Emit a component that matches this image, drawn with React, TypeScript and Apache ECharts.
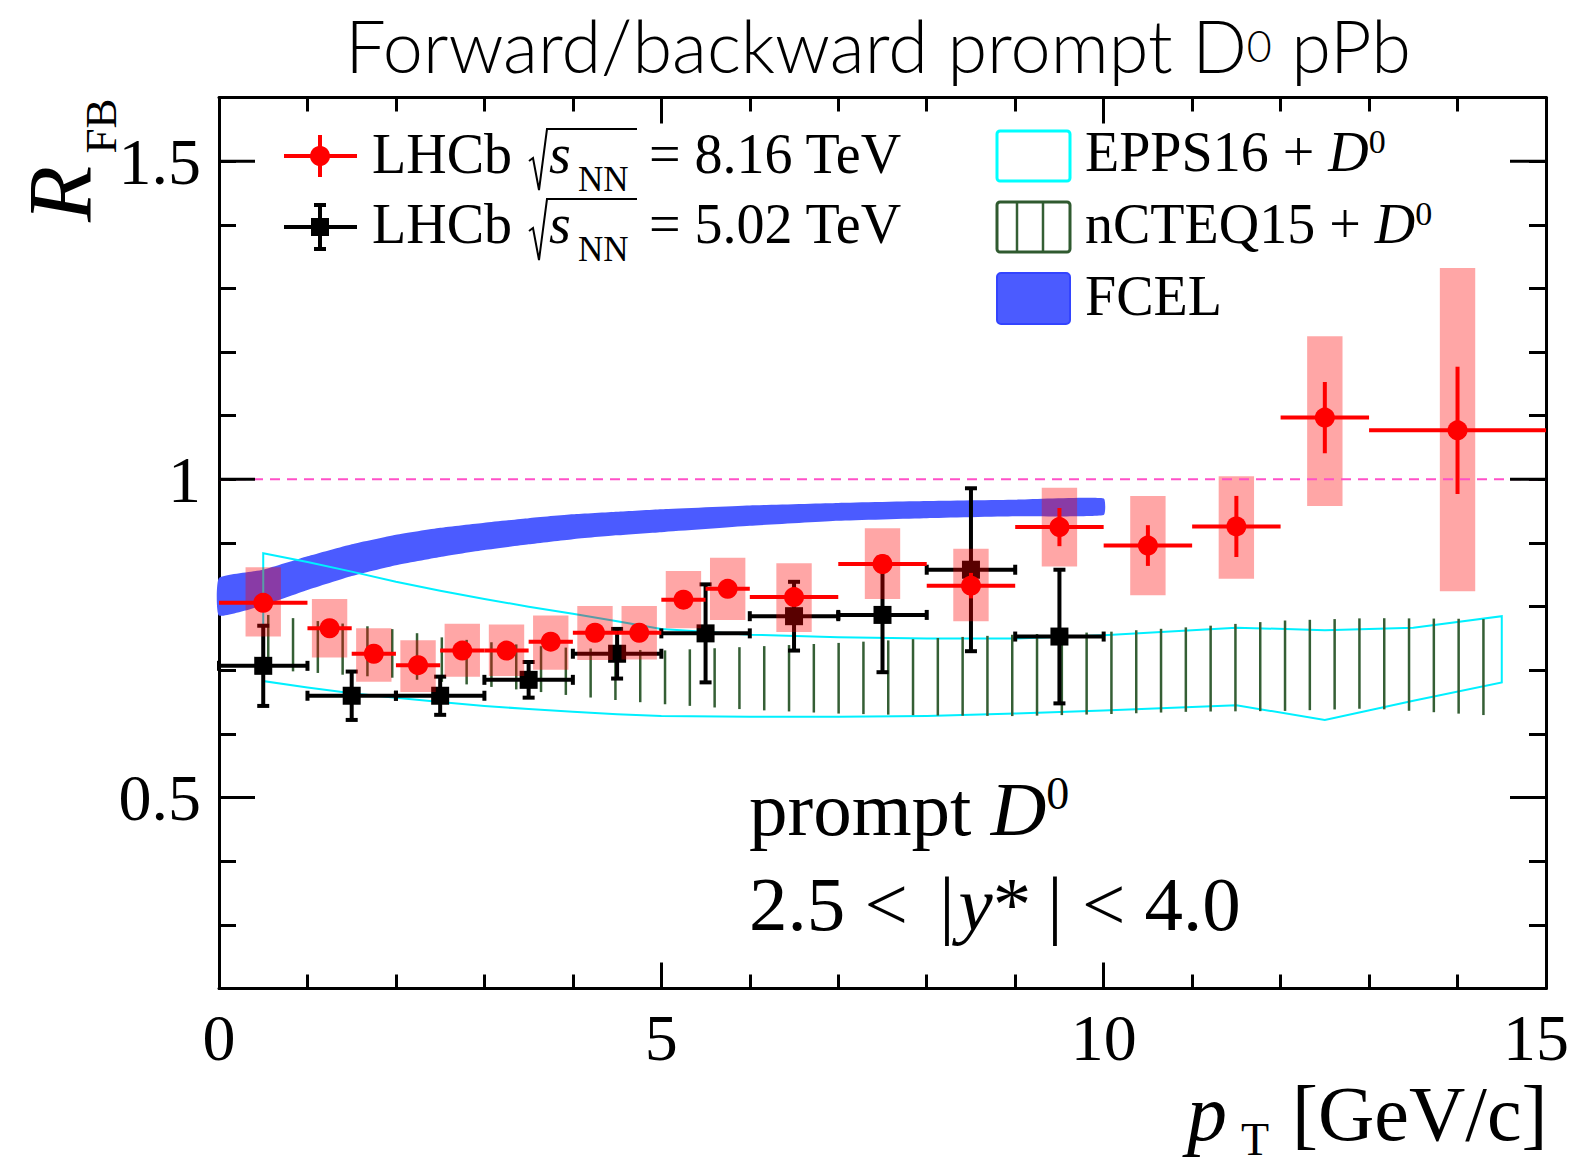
import React, { useEffect, useRef } from "react";
import * as echarts from "echarts";

// ---------------- data ----------------
// LHCb sqrt(sNN) = 8.16 TeV (red)
const redX = [0.5, 1.25, 1.75, 2.25, 2.75, 3.25, 3.75, 4.25, 4.75, 5.25, 5.75, 6.5, 7.5, 8.5, 9.5, 10.5, 11.5, 12.5, 14.0];
const redXLo = [0, 1.0, 1.5, 2.0, 2.5, 3.0, 3.5, 4.0, 4.5, 5.0, 5.5, 6, 7, 8, 9, 10, 11, 12, 13];
const redXHi = [1.0, 1.5, 2.0, 2.5, 3.0, 3.5, 4.0, 4.5, 5.0, 5.5, 6.0, 7, 8, 9, 10, 11, 12, 13, 15];
const redY = [0.806, 0.766, 0.726, 0.708, 0.731, 0.731, 0.745, 0.759, 0.759, 0.811, 0.828, 0.815, 0.867, 0.833, 0.925, 0.896, 0.926, 1.097, 1.077];
const redStat = [0.01, 0.008, 0.008, 0.008, 0.008, 0.008, 0.008, 0.008, 0.008, 0.01, 0.01, 0.012, 0.015, 0.02, 0.03, 0.032, 0.048, 0.056, 0.1];
const redSystLo = [0.753, 0.72, 0.682, 0.666, 0.69, 0.691, 0.701, 0.716, 0.717, 0.766, 0.779, 0.76, 0.812, 0.777, 0.863, 0.818, 0.844, 0.958, 0.824];
const redSystHi = [0.862, 0.812, 0.766, 0.747, 0.773, 0.772, 0.786, 0.801, 0.801, 0.856, 0.877, 0.868, 0.923, 0.891, 0.987, 0.974, 1.005, 1.225, 1.332];

// LHCb sqrt(sNN) = 5.02 TeV (black)
const blackX = [0.5, 1.5, 2.5, 3.5, 4.5, 5.5, 6.5, 7.5, 8.5, 9.5];
const blackXLo = [0, 1, 2, 3, 4, 5, 6, 7, 8, 9];
const blackXHi = [1, 2, 3, 4, 5, 6, 7, 8, 9, 10];
const blackY = [0.707, 0.66, 0.66, 0.685, 0.726, 0.758, 0.785, 0.787, 0.858, 0.753];
const blackErr = [0.063, 0.038, 0.03, 0.028, 0.039, 0.077, 0.054, 0.09, 0.128, 0.105];

// FCEL band
const fcelX = [0, 0.5, 1, 1.5, 2, 2.5, 3, 3.5, 4, 4.5, 5, 6, 7, 8, 9, 10];
const fcelHi = [0.845, 0.858, 0.879, 0.898, 0.913, 0.924, 0.932, 0.939, 0.945, 0.949, 0.953, 0.959, 0.963, 0.966, 0.968, 0.97];
const fcelLo = [0.786, 0.802, 0.826, 0.848, 0.865, 0.878, 0.889, 0.898, 0.906, 0.912, 0.917, 0.927, 0.935, 0.939, 0.942, 0.944];

// EPPS16 + D0 band (outline)
const eppsX = [0.5, 1, 1.5, 2, 2.5, 3, 3.5, 4, 4.5, 5, 6, 7, 8, 9, 10, 11.5, 12.5, 13.5, 14.5];
const eppsHi = [0.884, 0.87, 0.855, 0.839, 0.825, 0.812, 0.8, 0.789, 0.777, 0.765, 0.756, 0.752, 0.75, 0.75, 0.755, 0.767, 0.763, 0.767, 0.785];
const eppsLo = [0.683, 0.673, 0.664, 0.657, 0.65, 0.644, 0.639, 0.635, 0.631, 0.628, 0.627, 0.627, 0.628, 0.632, 0.637, 0.645, 0.622, 0.652, 0.681];

// nCTEQ15 + D0 band (hatched)
const ncteqX = [0.5, 1, 1.5, 2, 2.5, 3, 3.5, 4, 4.5, 5, 6, 7, 8, 9, 10, 11, 12, 13, 14, 14.5];
const ncteqHi = [0.788, 0.779, 0.772, 0.764, 0.752, 0.745, 0.739, 0.735, 0.733, 0.731, 0.737, 0.743, 0.75, 0.756, 0.76, 0.768, 0.778, 0.782, 0.781, 0.78];
const ncteqLo = [0.701, 0.697, 0.692, 0.688, 0.682, 0.675, 0.668, 0.66, 0.653, 0.647, 0.638, 0.632, 0.629, 0.628, 0.631, 0.635, 0.636, 0.64, 0.632, 0.628];

// reference line R = 1
const unityLine = [[0, 1], [15, 1]];

// axes
const xMin = 0, xMax = 15, xInterval = 5;
const yMin = 0.2, yMax = 1.6, yMinorInterval = 0.1;
const yMajorTicks = [0.5, 1, 1.5];

// ---------------- styles ----------------
const SERIF = "'Liberation Serif', 'Times New Roman', Times, serif";
const SANS = "Lato, 'Open Sans', sans-serif";
const C_SERIF = 0.3375; // central-baseline offset (em) for Liberation Serif
const BOX_HALF = 0.2;
const HATCH_STEP = 24.8;
const HATCH_GREEN = "#355f35";
const BLUE = "#4b5bff";
const PINK = "rgba(255,0,0,0.35)";

function txt(x: number, baseline: number, text: string, size: number, extra: any = {}) {
  return {
    type: "text",
    x,
    y: baseline - C_SERIF * size,
    z: 100,
    style: {
      text,
      fontSize: size,
      fontFamily: SERIF,
      fill: "#000",
      align: "left",
      verticalAlign: "middle",
      ...extra,
    },
  };
}

function interp(pts: number[][], px: number) {
  for (let i = 0; i < pts.length - 1; i++) {
    const a = pts[i], b = pts[i + 1];
    if (px >= a[0] && px <= b[0]) {
      const t = (px - a[0]) / (b[0] - a[0] || 1);
      return a[1] + t * (b[1] - a[1]);
    }
  }
  return pts[pts.length - 1][1];
}

function legendRow(y: number, baseline: number, energy: string, black: boolean) {
  const els: any[] = [];
  const color = black ? "#000" : "#ff0000";
  els.push({ type: "line", shape: { x1: 284, y1: y, x2: 357, y2: y }, style: { stroke: color, lineWidth: 4 }, z: 100 });
  if (black) {
    els.push({ type: "line", shape: { x1: 320, y1: y - 22, x2: 320, y2: y + 22 }, style: { stroke: color, lineWidth: 4 }, z: 100 });
    els.push({ type: "line", shape: { x1: 314, y1: y - 22, x2: 326, y2: y - 22 }, style: { stroke: color, lineWidth: 4 }, z: 100 });
    els.push({ type: "line", shape: { x1: 314, y1: y + 22, x2: 326, y2: y + 22 }, style: { stroke: color, lineWidth: 4 }, z: 100 });
    els.push({ type: "rect", shape: { x: 311, y: y - 9, width: 18, height: 18 }, style: { fill: color }, z: 100 });
  } else {
    els.push({ type: "line", shape: { x1: 320, y1: y - 21, x2: 320, y2: y + 21 }, style: { stroke: color, lineWidth: 4 }, z: 100 });
    els.push({ type: "circle", shape: { cx: 320, cy: y, r: 10 }, style: { fill: color }, z: 100 });
  }
  els.push(txt(372, baseline, "LHCb", 56));
  els.push({
    type: "polyline",
    shape: { points: [[529, baseline - 12], [533, baseline - 15], [539, baseline + 17], [547, baseline - 44], [637, baseline - 44]] },
    style: { stroke: "#000", lineWidth: 2, fill: null },
    z: 100,
  });
  els.push(txt(549, baseline, "s", 56, { fontStyle: "italic" }));
  els.push(txt(578, baseline + 18, "NN", 35));
  els.push(txt(649, baseline, "= " + energy + " TeV", 56));
  return els;
}

export default function App() {
  const ref = useRef<HTMLDivElement>(null);

  useEffect(() => {
    if (!ref.current) return;
    const chart = echarts.init(ref.current, undefined, { renderer: "svg" });

    const redData = redX.map((x, i) => [x, redY[i], redXLo[i], redXHi[i], redY[i] - redStat[i], redY[i] + redStat[i], redSystLo[i], redSystHi[i]]);
    const blackData = blackX.map((x, i) => [x, blackY[i], blackXLo[i], blackXHi[i], blackY[i] - blackErr[i], blackY[i] + blackErr[i]]);

    const yLabel = (v: number) => {
      for (const m of yMajorTicks) if (Math.abs(v - m) < 1e-6) return String(m);
      return "";
    };

    const serifRich = (size: number, supSize: number) => ({
      n: { fontSize: size, fontFamily: SERIF, fill: "#000" },
      i: { fontSize: size, fontFamily: SERIF, fontStyle: "italic", fill: "#000" },
      s: { fontSize: supSize, fontFamily: SERIF, fill: "#000", verticalAlign: "top" },
      p: { fontSize: size, fontFamily: SERIF, fill: "#000", padding: [0, 4, 0, 12] },
      q: { fontSize: size, fontFamily: SERIF, fill: "#000", padding: [0, 0, 0, 16] },
    });

    const graphics: any[] = [
      // title
      {
        type: "text",
        x: 878,
        y: 45,
        z: 100,
        style: {
          text: "{a|Forward/backward prompt D}{s|0}{a| pPb}",
          align: "center",
          verticalAlign: "middle",
          fill: "#000",
          rich: {
            a: { fontSize: 72, lineHeight: 72, fontFamily: SANS, fontWeight: 300, fill: "#000" },
            s: { fontSize: 43, lineHeight: 43, fontFamily: SANS, fontWeight: 300, fill: "#000" },
          },
        },
      },
      // y title R_FB (rotated)
      {
        type: "text", x: 60, y: 194, rotation: Math.PI / 2, z: 100,
        style: { text: "R", fontSize: 92, fontFamily: SERIF, fontStyle: "italic", fill: "#000", align: "center", verticalAlign: "middle" },
      },
      {
        type: "text", x: 101, y: 126, rotation: Math.PI / 2, z: 100,
        style: { text: "FB", fontSize: 45, fontFamily: SERIF, fill: "#000", align: "center", verticalAlign: "middle" },
      },
      // x title
      txt(1187, 1140, "p", 80, { fontStyle: "italic" }),
      txt(1241, 1155, "T", 46),
      txt(1292, 1140, "[GeV/c]", 78),
      // annotations
      txt(749, 835, "{n|prompt }{i|D}{s|0}", 77, { rich: serifRich(77, 46) }),
      txt(749, 930, "{n|2.5 < }{p||}{i|y}{n|*}{q||}{n| < 4.0}", 77, { rich: serifRich(77, 46) }),
      // legend left
      ...legendRow(156, 173, "8.16", false),
      ...legendRow(227, 243, "5.02", true),
      // legend right: EPPS16
      { type: "rect", shape: { x: 997, y: 131, width: 73, height: 50, r: 3 }, style: { fill: null, stroke: "#00ffff", lineWidth: 3 }, z: 100 },
      txt(1085, 171, "{n|EPPS16 + }{i|D}{s|0}", 56, { rich: serifRich(56, 34) }),
      // nCTEQ15
      { type: "line", shape: { x1: 1017, y1: 202, x2: 1017, y2: 252 }, style: { stroke: HATCH_GREEN, lineWidth: 2.5 }, z: 100 },
      { type: "line", shape: { x1: 1043, y1: 202, x2: 1043, y2: 252 }, style: { stroke: HATCH_GREEN, lineWidth: 2.5 }, z: 100 },
      { type: "rect", shape: { x: 997, y: 202, width: 73, height: 50, r: 3 }, style: { fill: null, stroke: "#2f5a2f", lineWidth: 3 }, z: 100 },
      txt(1085, 243, "{n|nCTEQ15 + }{i|D}{s|0}", 56, { rich: serifRich(56, 34) }),
      // FCEL
      { type: "rect", shape: { x: 997, y: 273, width: 73, height: 51, r: 4 }, style: { fill: BLUE, stroke: "#3344ff", lineWidth: 2 }, z: 100 },
      txt(1085, 315, "FCEL", 56),
    ];

    const option: any = {
      animation: false,
      backgroundColor: "#ffffff",
      grid: { left: 219, right: 31, top: 97.5, bottom: 175.5, containLabel: false },
      xAxis: [
        {
          type: "value", position: "bottom", min: xMin, max: xMax, interval: xInterval,
          axisLine: { show: true, onZero: false, lineStyle: { color: "#000", width: 3 } },
          axisTick: { show: true, inside: true, length: 26, lineStyle: { color: "#000", width: 3 } },
          minorTick: { show: true, splitNumber: 5, length: 14, lineStyle: { color: "#000", width: 3 } },
          axisLabel: {
            show: true, fontSize: 66, fontFamily: SERIF, color: "#000", margin: 16,
            formatter: (v: number) => (v === xMax ? "{r|" + v + "}" : String(v)),
            rich: { r: { fontSize: 66, fontFamily: SERIF, color: "#000", padding: [0, 20, 0, 0] } },
          },
          splitLine: { show: false },
        },
        {
          type: "value", position: "top", min: xMin, max: xMax, interval: xInterval,
          axisLine: { show: true, onZero: false, lineStyle: { color: "#000", width: 3 } },
          axisTick: { show: true, inside: true, length: 26, lineStyle: { color: "#000", width: 3 } },
          minorTick: { show: true, splitNumber: 5, length: 14, lineStyle: { color: "#000", width: 3 } },
          axisLabel: { show: false },
          splitLine: { show: false },
        },
      ],
      yAxis: [
        {
          type: "value", position: "left", min: yMin, max: yMax, interval: yMinorInterval,
          axisLine: { show: true, onZero: false, lineStyle: { color: "#000", width: 3 } },
          axisTick: { show: true, inside: true, length: 17, lineStyle: { color: "#000", width: 3 } },
          axisLabel: { show: true, fontSize: 66, fontFamily: SERIF, color: "#000", margin: 18, formatter: yLabel, showMinLabel: true, showMaxLabel: true },
          splitLine: { show: false },
        },
        {
          type: "value", position: "right", min: yMin, max: yMax, interval: yMinorInterval,
          axisLine: { show: true, onZero: false, lineStyle: { color: "#000", width: 3 } },
          axisTick: { show: true, inside: true, length: 17, lineStyle: { color: "#000", width: 3 } },
          axisLabel: { show: false },
          splitLine: { show: false },
        },
      ],
      graphic: graphics,
      series: [
        // major y ticks on both sides
        {
          type: "custom", xAxisIndex: 0, yAxisIndex: 0, silent: true, z: 5,
          data: yMajorTicks.map((v) => [xMin, v]),
          encode: { x: 0, y: 1 },
          renderItem: (params: any, api: any) => {
            const v = api.value(1);
            const p = api.coord([xMin, v]);
            const q = api.coord([xMax, v]);
            return {
              type: "group",
              children: [
                { type: "line", shape: { x1: p[0], y1: p[1], x2: p[0] + 36, y2: p[1] }, style: { stroke: "#000", lineWidth: 3 } },
                { type: "line", shape: { x1: q[0] - 36, y1: q[1], x2: q[0], y2: q[1] }, style: { stroke: "#000", lineWidth: 3 } },
              ],
            };
          },
        },
        // FCEL band
        {
          type: "custom", name: "FCEL", xAxisIndex: 0, yAxisIndex: 0, silent: true, z: 2,
          data: fcelX.map((x, i) => [x, fcelLo[i], fcelHi[i]]),
          encode: { x: 0, y: [1, 2] },
          renderItem: (params: any, api: any) => {
            if (params.dataIndex !== 0) return null;
            const up = fcelX.map((x, i) => api.coord([x, fcelHi[i]]));
            const lo = fcelX.map((x, i) => api.coord([x, fcelLo[i]])).reverse();
            return { type: "polygon", shape: { points: up.concat(lo), smooth: 0.15 }, style: { fill: BLUE } };
          },
        },
        // EPPS16 outline
        {
          type: "custom", name: "EPPS16", xAxisIndex: 0, yAxisIndex: 0, silent: true, z: 2,
          data: eppsX.map((x, i) => [x, eppsLo[i], eppsHi[i]]),
          encode: { x: 0, y: [1, 2] },
          renderItem: (params: any, api: any) => {
            if (params.dataIndex !== 0) return null;
            const up = eppsX.map((x, i) => api.coord([x, eppsHi[i]]));
            const lo = eppsX.map((x, i) => api.coord([x, eppsLo[i]])).reverse();
            return { type: "polygon", shape: { points: up.concat(lo) }, style: { fill: null, stroke: "#00f0ff", lineWidth: 2 } };
          },
        },
        // nCTEQ15 hatch
        {
          type: "custom", name: "nCTEQ15", xAxisIndex: 0, yAxisIndex: 0, silent: true, z: 2,
          data: ncteqX.map((x, i) => [x, ncteqLo[i], ncteqHi[i]]),
          encode: { x: 0, y: [1, 2] },
          renderItem: (params: any, api: any) => {
            if (params.dataIndex !== 0) return null;
            const up = ncteqX.map((x, i) => api.coord([x, ncteqHi[i]]));
            const lo = ncteqX.map((x, i) => api.coord([x, ncteqLo[i]]));
            const children: any[] = [];
            const x0 = up[0][0], x1 = up[up.length - 1][0];
            for (let px = x0 + 5; px <= x1 - 2; px += HATCH_STEP) {
              children.push({
                type: "line",
                shape: { x1: px, y1: interp(up, px), x2: px, y2: interp(lo, px) },
                style: { stroke: HATCH_GREEN, lineWidth: 2.5 },
              });
            }
            return { type: "group", children };
          },
        },
        // black points (5.02 TeV)
        {
          type: "custom", name: "LHCb 5.02", xAxisIndex: 0, yAxisIndex: 0, silent: true, z: 3,
          data: blackData,
          encode: { x: 0, y: 1 },
          renderItem: (params: any, api: any) => {
            const x = api.value(0), y = api.value(1);
            const c = api.coord([x, y]);
            const l = api.coord([api.value(2), y]);
            const r = api.coord([api.value(3), y]);
            const b = api.coord([x, api.value(4)]);
            const t = api.coord([x, api.value(5)]);
            const st = { stroke: "#000", lineWidth: 4 };
            return {
              type: "group",
              children: [
                { type: "line", shape: { x1: l[0], y1: c[1], x2: r[0], y2: c[1] }, style: st },
                { type: "line", shape: { x1: c[0], y1: t[1], x2: c[0], y2: b[1] }, style: st },
                { type: "line", shape: { x1: l[0], y1: c[1] - 5, x2: l[0], y2: c[1] + 5 }, style: st },
                { type: "line", shape: { x1: r[0], y1: c[1] - 5, x2: r[0], y2: c[1] + 5 }, style: st },
                { type: "line", shape: { x1: c[0] - 6, y1: t[1], x2: c[0] + 6, y2: t[1] }, style: st },
                { type: "line", shape: { x1: c[0] - 6, y1: b[1], x2: c[0] + 6, y2: b[1] }, style: st },
                { type: "rect", shape: { x: c[0] - 9, y: c[1] - 9, width: 18, height: 18 }, style: { fill: "#000" } },
              ],
            };
          },
        },
        // red systematic boxes
        {
          type: "custom", name: "syst", xAxisIndex: 0, yAxisIndex: 0, silent: true, z: 4,
          data: redData,
          encode: { x: 0, y: [6, 7] },
          renderItem: (params: any, api: any) => {
            const x = api.value(0);
            const p1 = api.coord([x - BOX_HALF, api.value(7)]);
            const p2 = api.coord([x + BOX_HALF, api.value(6)]);
            return { type: "rect", shape: { x: p1[0], y: p1[1], width: p2[0] - p1[0], height: p2[1] - p1[1] }, style: { fill: PINK } };
          },
        },
        // R = 1 dashed line
        {
          type: "line", xAxisIndex: 0, yAxisIndex: 0, silent: true, z: 4,
          data: unityLine, symbol: "none",
          lineStyle: { color: "#ff50c8", width: 2, type: [10, 7] },
        },
        // red points (8.16 TeV)
        {
          type: "custom", name: "LHCb 8.16", xAxisIndex: 0, yAxisIndex: 0, silent: true, z: 6,
          data: redData,
          encode: { x: 0, y: 1 },
          renderItem: (params: any, api: any) => {
            const x = api.value(0), y = api.value(1);
            const c = api.coord([x, y]);
            const l = api.coord([api.value(2), y]);
            const r = api.coord([api.value(3), y]);
            const b = api.coord([x, api.value(4)]);
            const t = api.coord([x, api.value(5)]);
            const st = { stroke: "#ff0000", lineWidth: 4 };
            return {
              type: "group",
              children: [
                { type: "line", shape: { x1: l[0], y1: c[1], x2: r[0], y2: c[1] }, style: st },
                { type: "line", shape: { x1: c[0], y1: t[1], x2: c[0], y2: b[1] }, style: st },
                { type: "circle", shape: { cx: c[0], cy: c[1], r: 10 }, style: { fill: "#ff0000" } },
              ],
            };
          },
        },
      ],
    };

    chart.setOption(option);
    return () => chart.dispose();
  }, []);

  return <div ref={ref} style={{ position: "fixed", left: 0, top: 0, width: 1577, height: 1164, background: "#fff" }} />;
}
